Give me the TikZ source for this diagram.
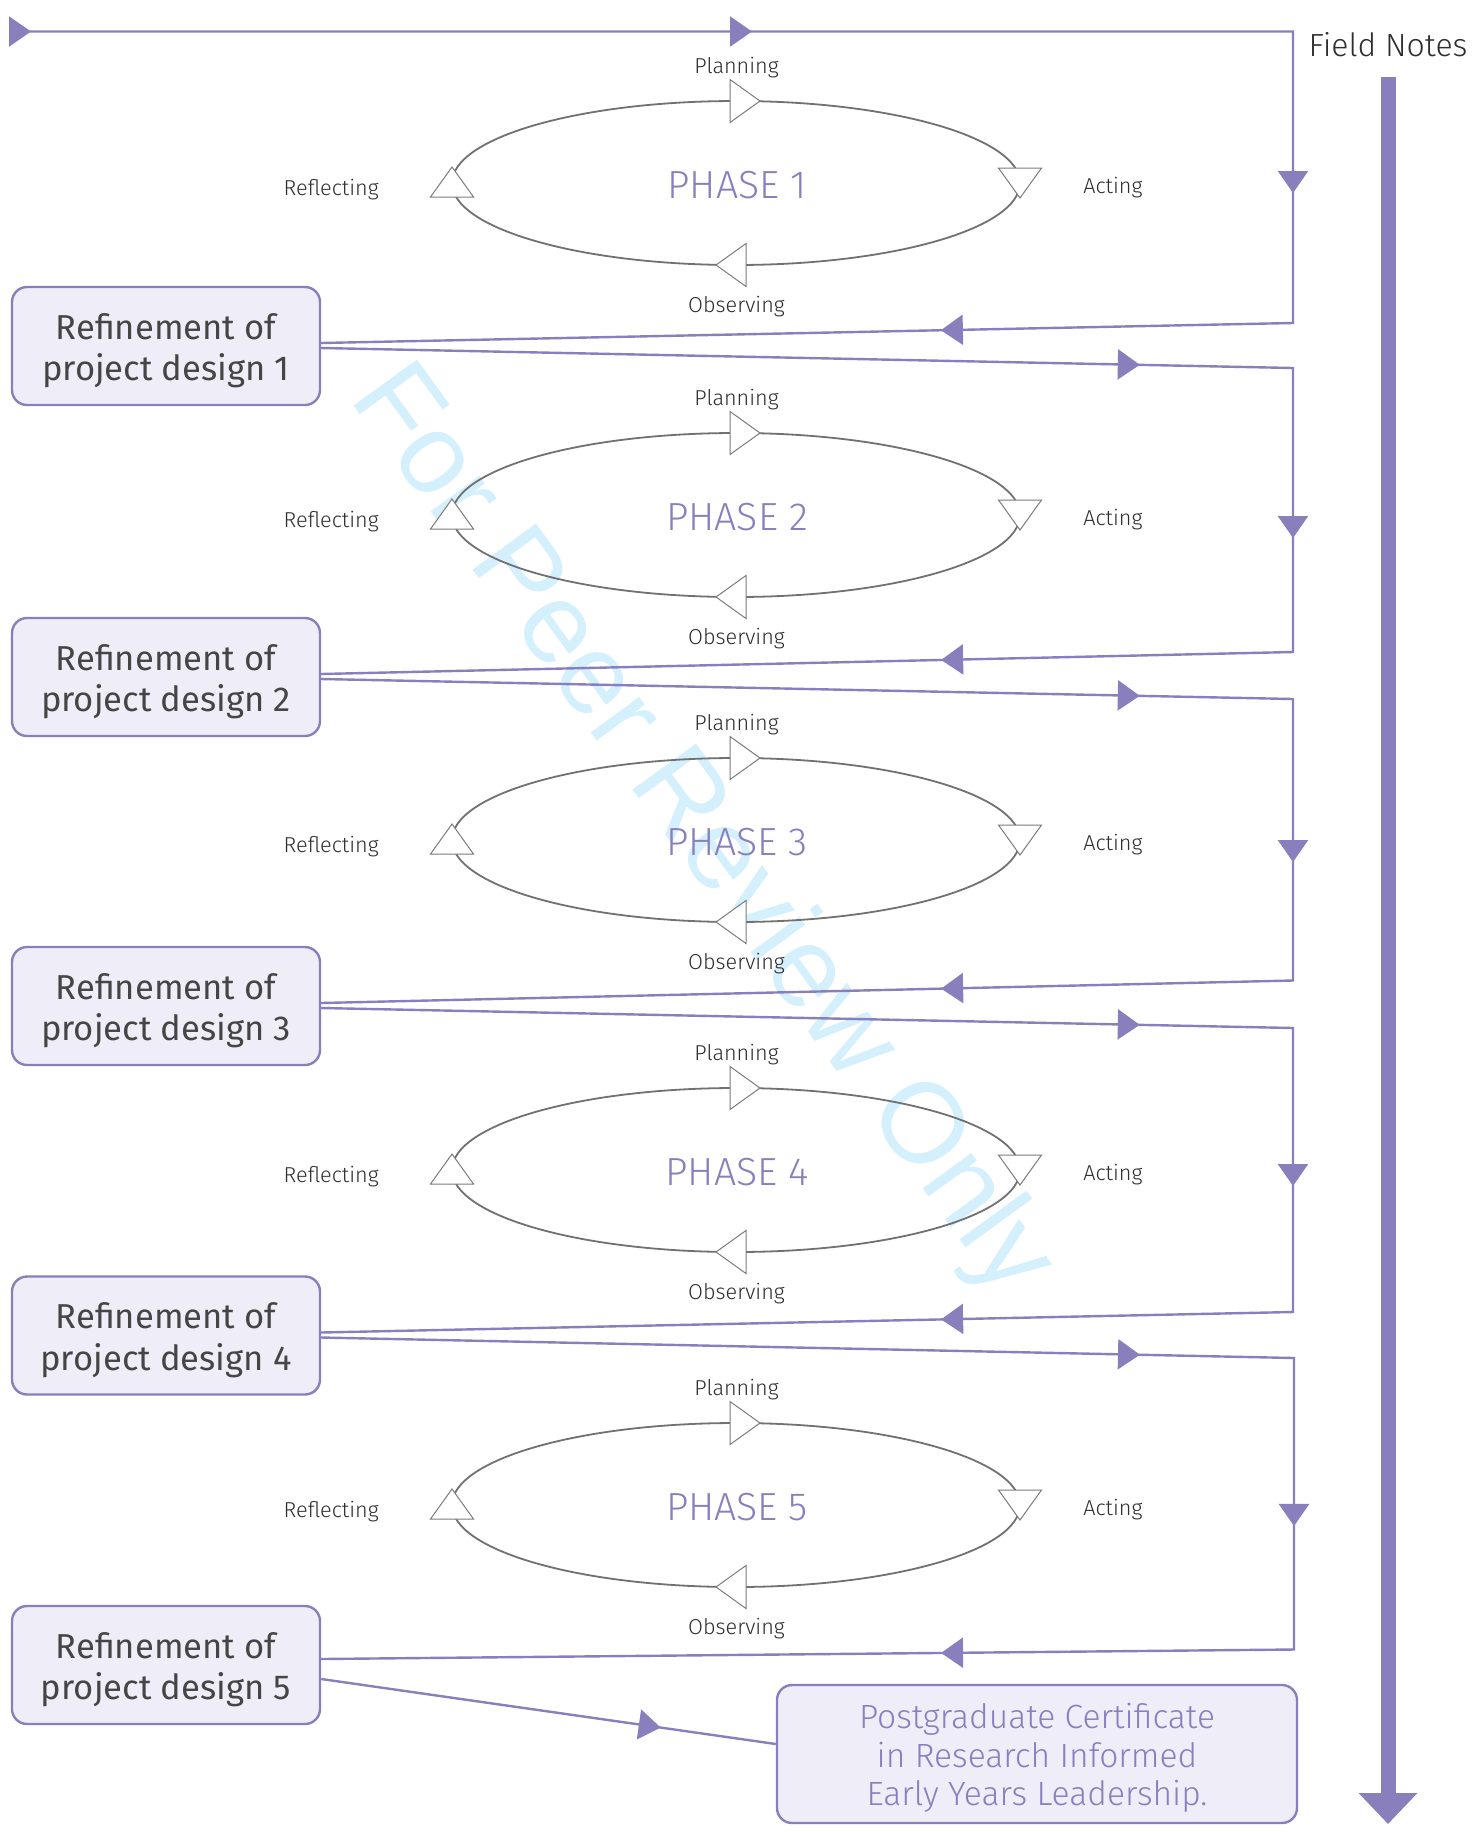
\documentclass[tikz,border=0pt]{standalone}
\usepackage{fontspec}
\setmainfont{Fira Sans}
\newfontfamily\lightfont{Fira Sans Light}
\newfontfamily\wmfont{Liberation Sans}
\usetikzlibrary{arrows.meta,decorations.markings,calc}
\definecolor{pl}{HTML}{8A7FBD}
\definecolor{boxfill}{HTML}{EFEDF7}
\definecolor{boxtext}{HTML}{454545}
\definecolor{labtext}{HTML}{2E2E2E}
\definecolor{ellgrey}{HTML}{717171}
\definecolor{trigrey}{HTML}{7C7C7C}
\definecolor{wmblue}{HTML}{D4F0FC}
\begin{document}
\begin{tikzpicture}[x=0.5pt,y=-0.5pt,
  purpline/.style={draw=pl,line width=1.2pt,line join=miter},
  marr/.style={postaction={decorate,decoration={markings,mark=at position #1 with {\arrow{Triangle[length=11pt,width=15pt]}}}}},
  refbox/.style={draw=pl,fill=boxfill,line width=1.2pt,rounded corners=7.5pt,minimum width=154pt,minimum height=59pt,inner sep=0pt},
  pgbox/.style={draw=pl,fill=boxfill,line width=1.2pt,rounded corners=7.5pt,minimum width=260pt,minimum height=69pt,inner sep=0pt},
  boxtxt/.style={font=\fontsize{17.3}{20}\selectfont,text=boxtext,inner sep=0pt,anchor=base},
  pgtxt/.style={font=\lightfont\fontsize{16.8}{19}\selectfont,text=pl,inner sep=0pt,anchor=base},
  lab/.style={font=\lightfont\fontsize{10.8}{12}\selectfont,text=labtext,inner sep=0pt},
  phasetxt/.style={font=\lightfont\fontsize{19.6}{22}\selectfont,text=pl,inner sep=0pt,anchor=base},
  fntxt/.style={font=\lightfont\fontsize{16}{18}\selectfont,text=labtext,inner sep=0pt,anchor=base},
  ell/.style={draw=ellgrey,line width=0.9pt},
  tri/.style={draw=trigrey,fill=white,line width=0.5pt,line join=miter},
  wm/.style={font=\wmfont\fontsize{57}{60}\selectfont,text=wmblue,rotate=-54,inner sep=0pt}
]
\useasboundingbox (0,0) rectangle (1479,1832);
\fill[white] (0,0) rectangle (1479,1832);

% watermark
\node[wm] (wm) at (700,832) {For Peer Review Only};

% phases
\foreach \k/\cy in {1/183,2/515,3/840,4/1170,5/1505}{
  \draw[ell] (736,\cy) ellipse [x radius=284,y radius=82];
  \filldraw[tri] (730,\cy-103.5) -- (760,\cy-82) -- (730,\cy-60.5) -- cycle;
  \filldraw[tri] (998.5,\cy-15) -- (1041.5,\cy-15) -- (1020,\cy+15) -- cycle;
  \filldraw[tri] (746,\cy+60.5) -- (716,\cy+82) -- (746,\cy+103.5) -- cycle;
  \filldraw[tri] (430.5,\cy+14) -- (473.5,\cy+14) -- (452,\cy-16) -- cycle;
  \node[lab,anchor=base] (plan\k) at (736.5,\cy-110) {Planning};
  \node[lab,anchor=base west] (act\k) at (1083,\cy+10.5) {Acting};
  \node[lab,anchor=base] (obs\k) at (736.5,\cy+129) {Observing};
  \node[lab,anchor=base east] (refl\k) at (379,\cy+12.5) {Reflecting};
  \node[phasetxt] (ph\k) at (737,\cy+15) {PHASE \k};
}

% refinement boxes
\foreach \k/\cy in {1/346,2/677,3/1006,4/1335.5,5/1665}{
  \node[refbox] (r\k) at (166,\cy) {};
  \node[boxtxt] (ra\k) at (166,\cy-6.7) {Refinement of};
  \node[boxtxt] (rb\k) at (166,\cy+34.7) {project design \k};
}

% final box
\node[pgbox] (pg) at (1037,1754) {};
\node[pgtxt] (pga) at (1037,1728) {Postgraduate Certificate};
\node[pgtxt] (pgb) at (1037,1767) {in Research Informed};
\node[pgtxt] (pgc) at (1037,1805) {Early Years Leadership.};

% field notes
\node[fntxt] (fn) at (1388,56) {Field Notes};
\coordinate (fntop) at (1388,77);
\coordinate (fnend) at (1388,1824);
\draw[pl,line width=7.5pt,-{Triangle[length=15.5pt,width=28.5pt]}] (fntop) -- (fnend);

% corners
\coordinate (s0) at (9,31.5);
\coordinate (t1) at (1293,31.5);   \coordinate (b1) at (1293,323);
\coordinate (t2) at (1293,368);    \coordinate (b2) at (1293,652);
\coordinate (t3) at (1293,699);    \coordinate (b3) at (1293,980.5);
\coordinate (t4) at (1293,1028);   \coordinate (b4) at (1293,1312);
\coordinate (t5) at (1294,1358);   \coordinate (b5) at (1294,1649.5);

% loops
\draw[purpline,marr=11pt,marr=371.5pt,marr=722.75pt,marr=963.85pt]
  (s0) -- (t1) -- (b1) -- ($(r1.east)+(0,-3)$);
\draw[purpline,marr=409.4pt,marr=571pt,marr=804pt]
  ($(r1.east)+(0,2)$) -- (t2) -- (b2) -- ($(r2.east)+(0,-3)$);
\draw[purpline,marr=409.4pt,marr=567.5pt,marr=802.75pt]
  ($(r2.east)+(0,2)$) -- (t3) -- (b3) -- ($(r3.east)+(0,-3)$);
\draw[purpline,marr=409.4pt,marr=565pt,marr=804pt]
  ($(r3.east)+(0,2)$) -- (t4) -- (b4) -- ($(r4.east)+(0,-3)$);
\draw[purpline,marr=409.5pt,marr=570.5pt,marr=808.75pt]
  ($(r4.east)+(0,2)$) -- (t5) -- (b5) -- ($(r5.east)+(0,-6)$);
\draw[purpline,marr=171.5pt]
  ($(r5.east)+(0,14)$) -- ($(pg.west)+(0,-10)$);
\end{tikzpicture}
\end{document}
